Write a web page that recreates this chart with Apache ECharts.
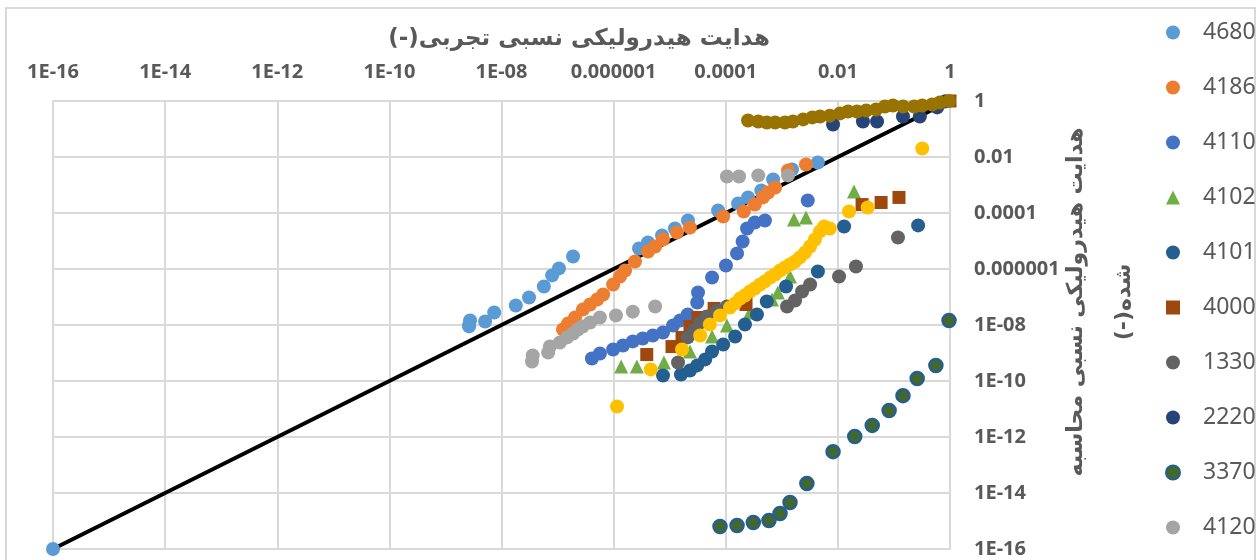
<!DOCTYPE html>
<html>
<head>
<meta charset="utf-8">
<script src="https://cdn.jsdelivr.net/npm/echarts@6/dist/echarts.min.js"></script>
<style>
  html, body { margin: 0; padding: 0; background: #ffffff; }
  #chart { width: 1260px; height: 560px; }
</style>
</head>
<body>
<div id="chart"></div>
<script>
// Axis titles and tick labels (RLM marks keep the "(-)" on the right-to-left side)
const RLM = '\u200F';
const xTitle = RLM + 'هدایت هیدرولیکی نسبی تجربی(-)' + RLM;
const yTitle = RLM + 'هدایت هیدرولیکی نسبی محاسبه' + RLM + '\n' + RLM + 'شده(-)' + RLM;
const tickLabels = ['1E-16', '1E-14', '1E-12', '1E-10', '1E-08', '0.000001', '0.0001', '0.01', '1'];
const legendNames = ['4680', '4186', '4110', '4102', '4101', '4000', '1330', '2220', '3370', '4120'];

// 1:1 reference line
const oneToOne = [[1e-16, 1e-16], [1, 1]];

// [measured, computed] relative hydraulic conductivity per soil
const s4680 = [[1e-16, 1e-16], [2.64e-9, 8.9e-9], [2.64e-9, 9.6e-9], [2.75e-9, 1.45e-8], [5.1e-9, 1.33e-8],
  [7.4e-9, 2.8e-8], [1.8e-8, 5.0e-8], [3.1e-8, 9.6e-8], [5.7e-8, 2.37e-7], [8.0e-8, 5.9e-7], [1.06e-7, 1.05e-6],
  [1.89e-7, 2.8e-6], [2.84e-6, 5.4e-6], [4.1e-6, 8.8e-6], [7.3e-6, 1.57e-5], [1.24e-5, 2.8e-5], [2.12e-5, 5.4e-5],
  [7.3e-5, 1.23e-4], [1.66e-4, 2.2e-4], [2.5e-4, 3.6e-4], [4.3e-4, 6.4e-4], [7.0e-4, 1.57e-3], [1.52e-3, 3.6e-3],
  [4.4e-3, 6.4e-3]];
const s4186 = [[1.25e-7, 6.9e-9], [1.54e-7, 1.13e-8], [2.05e-7, 1.85e-8], [2.84e-7, 3.6e-8], [3.8e-7, 5.4e-8],
  [5.1e-7, 8.1e-8], [6.5e-7, 1.23e-7], [9.8e-7, 2.8e-7], [1.3e-6, 5.4e-7], [1.6e-6, 8.8e-7], [2.4e-6, 1.85e-6],
  [4.1e-6, 4.2e-6], [5.5e-6, 6.4e-6], [7.6e-6, 1.13e-5], [1.35e-5, 2.0e-5], [2.3e-5, 3.0e-5], [9.0e-5, 7.5e-5],
  [2.1e-4, 1.13e-4], [3.3e-4, 2.0e-4], [4.6e-4, 3.6e-4], [5.7e-4, 5.4e-4], [7.6e-4, 8.1e-4], [1.29e-3, 3.3e-3],
  [2.7e-3, 5.4e-3]];
const s4110 = [[4.1e-7, 6.4e-10], [5.7e-7, 9.6e-10], [9.8e-7, 1.33e-9], [1.47e-6, 1.85e-9], [2.2e-6, 2.6e-9],
  [3.3e-6, 3.3e-9], [5.0e-6, 4.2e-9], [7.6e-6, 5.4e-9], [1.15e-5, 9.6e-9], [1.53e-5, 1.45e-8], [2.1e-5, 2.37e-8],
  [3.1e-5, 6.4e-8], [3.2e-5, 1.45e-7], [5.7e-5, 5.0e-7], [1.01e-4, 1.33e-6], [1.59e-4, 3.6e-6], [2.0e-4, 9.6e-6],
  [2.4e-4, 2.8e-5], [3.3e-4, 4.6e-5], [5.0e-4, 5.4e-5], [2.9e-3, 2.8e-4]];
const s4102 = [[1.36e-6, 3.3e-10], [2.6e-6, 3.3e-10], [7.9e-6, 4.6e-10], [2.3e-5, 1.13e-9], [5.7e-5, 3.9e-9],
  [1.05e-4, 9.6e-9], [2.7e-4, 2.8e-8], [6.7e-4, 8.1e-8], [8.5e-4, 1.45e-7], [1.4e-3, 5.4e-7], [1.65e-3, 5.9e-5],
  [2.7e-3, 6.9e-5], [1.94e-2, 5.9e-4]];
const s4101 = [[7.6e-6, 1.57e-10], [1.59e-5, 1.7e-10], [2.3e-5, 2.37e-10], [3.1e-5, 3.6e-10], [4.3e-5, 5.9e-10],
  [5.7e-5, 1.13e-9], [9.0e-5, 2.0e-9], [1.47e-4, 3.9e-9], [2.2e-4, 1.04e-8], [3.6e-4, 2.37e-8], [5.4e-4, 6.9e-8],
  [1.19e-3, 2.37e-7], [4.4e-3, 8.1e-7], [1.29e-2, 3.3e-5], [0.27, 3.6e-5]];
const s4000 = [[3.9e-6, 8.8e-10], [1.1e-5, 1.7e-9], [1.66e-5, 3.6e-9], [2.3e-5, 8.8e-9], [3.2e-5, 1.85e-8],
  [6.2e-5, 3.9e-8], [2.3e-4, 5.4e-8], [2.7e-2, 2.0e-4], [5.9e-2, 2.37e-4], [0.123, 3.6e-4], [1, 1]];
const s1330 = [[1.41e-5, 4.6e-10], [2.1e-5, 3.6e-9], [2.7e-5, 6.4e-9], [3.5e-5, 1.23e-8], [4.6e-5, 2.0e-8],
  [7.0e-5, 3.3e-8], [1.05e-4, 4.6e-8], [1.24e-3, 4.6e-8], [1.72e-3, 7.5e-8], [2.3e-3, 1.57e-7], [3.2e-3, 2.8e-7],
  [1.05e-2, 5.4e-7], [2.1e-2, 1.23e-6], [0.118, 1.33e-5]];
const s2220 = [[8.2e-3, 0.145], [2.8e-2, 0.185], [5.0e-2, 0.185], [0.145, 0.28], [0.29, 0.28], [0.59, 0.59],
  [0.81, 0.95]];
const s3370 = [[7.9e-5, 6.4e-16], [1.59e-4, 6.9e-16], [3.1e-4, 8.8e-16], [5.9e-4, 1.04e-15], [9.3e-4, 1.85e-15],
  [1.4e-3, 4.6e-15], [2.8e-3, 2.2e-14], [8.2e-3, 3.0e-13], [2.0e-2, 1.04e-12], [4.1e-2, 2.6e-12], [8.2e-2, 8.8e-12],
  [0.145, 3.0e-11], [0.26, 1.23e-10], [0.56, 3.6e-10], [0.96, 1.45e-8]];
const s4120 = [[3.5e-8, 5.0e-10], [3.6e-8, 8.1e-10], [6.8e-8, 1.04e-9], [7.3e-8, 1.7e-9], [1.1e-7, 2.37e-9],
  [1.48e-7, 3.6e-9], [1.9e-7, 5.0e-9], [2.3e-7, 6.9e-9], [2.8e-7, 8.8e-9], [3.8e-7, 1.23e-8], [5.7e-7, 1.85e-8],
  [1.1e-6, 2.2e-8], [2.2e-6, 3.0e-8], [5.5e-6, 4.6e-8], [1.05e-4, 2.0e-3], [1.73e-4, 2.0e-3], [3.8e-4, 2.2e-3],
  [1.29e-3, 2.2e-3]];
const sYellow = [[1.15e-6, 1.23e-11], [4.6e-6, 2.6e-10], [1.66e-5, 1.33e-9], [3.5e-5, 4.2e-9], [5.2e-5, 1.04e-8],
  [7.9e-5, 2.2e-8], [1.19e-4, 4.2e-8], [1.47e-4, 5.9e-8], [1.8e-4, 8.8e-8], [2.2e-4, 1.13e-7], [2.7e-4, 1.57e-7],
  [3.3e-4, 2.0e-7], [4.1e-4, 2.8e-7], [5.0e-4, 3.6e-7], [6.2e-4, 5.0e-7], [7.6e-4, 6.4e-7], [9.3e-4, 8.8e-7],
  [1.14e-3, 1.13e-6], [1.4e-3, 1.45e-6], [1.72e-3, 1.85e-6], [2.1e-3, 2.6e-6], [2.6e-3, 3.9e-6], [3.2e-3, 6.4e-6],
  [3.9e-3, 1.13e-5], [4.8e-3, 2.2e-5], [5.7e-3, 3.3e-5], [7.2e-3, 2.8e-5], [1.58e-2, 1.13e-4], [3.4e-2, 1.57e-4],
  [0.32, 2.0e-2]];
const sOlive = [[2.5e-4, 0.2], [3.8e-4, 0.185], [5.4e-4, 0.17], [7.6e-4, 0.17], [1.14e-3, 0.17], [1.58e-3, 0.185],
  [2.4e-3, 0.22], [3.5e-3, 0.26], [4.8e-3, 0.28], [7.2e-3, 0.3], [1.09e-2, 0.36], [1.52e-2, 0.42], [2.2e-2, 0.42],
  [3.2e-2, 0.46], [4.8e-2, 0.5], [6.9e-2, 0.64], [9.6e-2, 0.69], [0.145, 0.64], [0.23, 0.64], [0.32, 0.69],
  [0.48, 0.75], [0.66, 0.88], [0.96, 1]];

const TEXT = '#595959';
const GRID = '#D9D9D9';

function tickText(v) {
  const idx = Math.round(Math.log10(v) / 2) + 8;
  return tickLabels[idx] !== undefined ? tickLabels[idx] : '';
}

function pointSeries(name, data, color, symbol, extra) {
  return Object.assign({
    name: name,
    type: 'scatter',
    data: data,
    symbol: symbol,
    symbolSize: symbol === 'rect' ? 13 : 14,
    symbolKeepAspect: true,
    clip: false,
    itemStyle: { color: color, opacity: 1 },
    emphasis: { disabled: true }
  }, extra || {});
}

const chart = echarts.init(document.getElementById('chart'), null, { renderer: 'canvas' });

chart.setOption({
  animation: false,
  backgroundColor: '#ffffff',
  grid: { left: 53, top: 101, width: 897, height: 448, containLabel: false },
  xAxis: {
    type: 'log', logBase: 10, min: 1e-16, max: 1, interval: 2,
    position: 'top',
    axisLine: { show: true, lineStyle: { color: GRID, width: 2 } },
    axisTick: { show: false },
    axisLabel: { margin: 19, color: TEXT, fontSize: 20, fontWeight: 'bold', fontFamily: 'Noto Sans', formatter: tickText },
    splitLine: { show: true, lineStyle: { color: GRID, width: 2 } }
  },
  yAxis: {
    type: 'log', logBase: 10, min: 1e-16, max: 1, interval: 2,
    position: 'right',
    axisLine: { show: true, lineStyle: { color: GRID, width: 2 } },
    axisTick: { show: false },
    axisLabel: { margin: 24, color: TEXT, fontSize: 20, fontWeight: 'bold', fontFamily: 'Noto Sans', formatter: tickText },
    splitLine: { show: true, lineStyle: { color: GRID, width: 2 } }
  },
  legend: {
    data: legendNames,
    orient: 'vertical',
    left: 1160, top: 16,
    itemWidth: 14, itemHeight: 14, itemGap: 32,
    symbolKeepAspect: true,
    textStyle: { color: TEXT, fontSize: 23, lineHeight: 23, fontFamily: 'Noto Sans', padding: [0, 0, 0, 18] },
    selectedMode: false
  },
  graphic: [
    { type: 'rect', shape: { x: 6, y: 8, width: 1249, height: 600 },
      style: { fill: 'none', stroke: GRID, lineWidth: 2 }, silent: true, z: -10 },
    { type: 'text', x: 579, y: 39,
      style: { text: xTitle, fill: TEXT, font: 'bold 23px "DejaVu Sans"', textAlign: 'center', textVerticalAlign: 'middle' } },
    { type: 'text', x: 1100, y: 302, rotation: Math.PI / 2,
      style: { text: yTitle, fill: TEXT, font: 'bold 22px "DejaVu Sans"', lineHeight: 48, textAlign: 'center', textVerticalAlign: 'middle' } }
  ],
  series: [
    { name: '1:1', type: 'line', data: oneToOne, showSymbol: false, symbol: 'none',
      lineStyle: { color: '#000000', width: 4 }, z: 1, emphasis: { disabled: true } },
    pointSeries('4680', s4680, '#5B9BD5', 'circle'),
    pointSeries('4186', s4186, '#ED7D31', 'circle'),
    pointSeries('4110', s4110, '#4472C4', 'circle'),
    pointSeries('4102', s4102, '#70AD47', 'triangle'),
    pointSeries('4101', s4101, '#255E91', 'circle'),
    pointSeries('4000', s4000, '#9E480E', 'rect'),
    pointSeries('1330', s1330, '#636363', 'circle'),
    pointSeries('2220', s2220, '#264478', 'circle'),
    pointSeries('3370', s3370, '#43682B', 'circle', {
      symbolSize: 13,
      itemStyle: { color: '#43682B', borderColor: '#255E91', borderWidth: 2.5, opacity: 1 }
    }),
    pointSeries('4120', s4120, '#A5A5A5', 'circle'),
    pointSeries('S11', sYellow, '#FFC000', 'circle'),
    pointSeries('S12', sOlive, '#997300', 'circle')
  ]
});
</script>
</body>
</html>
